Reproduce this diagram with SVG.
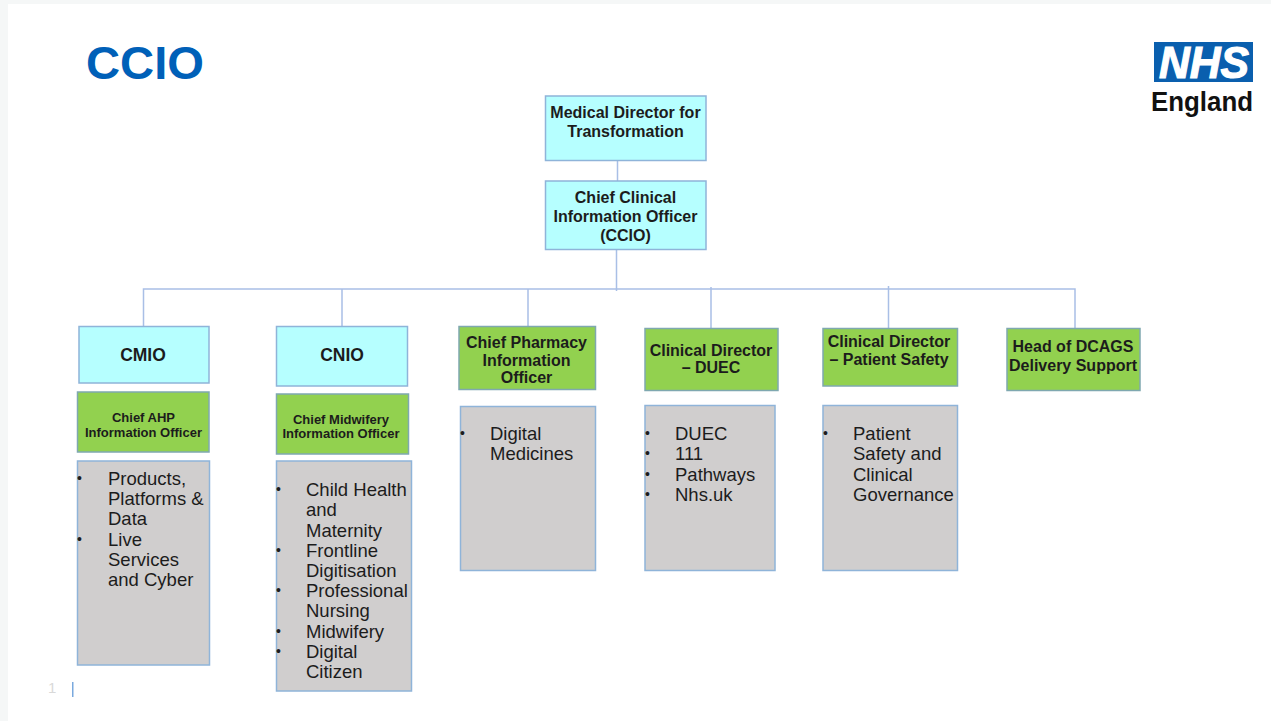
<svg xmlns="http://www.w3.org/2000/svg" width="1271" height="721" viewBox="0 0 1271 721">
<style>
text{font-family:"Liberation Sans",Arial,sans-serif;fill:#1c1c1c}
.box{stroke:#8fb4d9;stroke-width:1.5}
.cy{fill:#b6ffff}.gr{fill:#92d14f;stroke:#7fa8b0}.gy{fill:#d0cece}
.b{font-weight:bold;text-anchor:middle;font-size:16px}
.c{font-weight:bold;text-anchor:middle;font-size:17.500px}
.s{font-weight:bold;text-anchor:middle;font-size:13px}
.l{font-size:18.500px}
.d{font-size:14px}
.conn{stroke:#a9bfe6;stroke-width:1.5;fill:none}
</style>
<rect width="1271" height="721" fill="#f5f7f7"/>
<rect x="8" y="4" width="1263" height="717" fill="#fff"/>
<text id="title" x="86" y="79" font-size="47" font-weight="bold" style="fill:#0060b8" textLength="118" lengthAdjust="spacingAndGlyphs">CCIO</text>
<g id="logo">
<rect x="1154" y="42" width="99" height="40" fill="#0a5fae"/>
<text x="1159" y="78" font-size="45" font-weight="bold" font-style="italic" style="fill:#fff;stroke:#fff;stroke-width:1.200" textLength="90" lengthAdjust="spacingAndGlyphs">NHS</text>
<text x="1253" y="111" font-size="27" font-weight="bold" text-anchor="end" style="fill:#111" textLength="102" lengthAdjust="spacingAndGlyphs">England</text>
</g>
<g id="connectors" class="conn">
<path d="M617.500 160V181M616.500 249V291M143.500 326V289H1075V328M342 289V326M528 289V326M711 287V328M888.500 286V328"/>
</g>
<g id="n-md"><rect class="box cy" x="545.500" y="96" width="160.500" height="64.500"/><text class="b" x="625.500" y="118">Medical Director for</text><text class="b" x="625.500" y="137">Transformation</text></g>
<g id="n-ccio"><rect class="box cy" x="545.500" y="181" width="160.500" height="68.500"/><text class="b" x="625.500" y="203">Chief Clinical</text><text class="b" x="625.500" y="222">Information Officer</text><text class="b" x="625.500" y="241">(CCIO)</text></g>
<g id="n-cmio"><rect class="box cy" x="79" y="326.500" width="130" height="56.500"/><text class="c" x="143" y="361">CMIO</text></g>
<g id="n-cnio"><rect class="box cy" x="276.500" y="326.500" width="131" height="59.500"/><text class="c" x="342" y="361">CNIO</text></g>
<g id="n-ahp"><rect class="box gr" x="77.500" y="392" width="131.500" height="60"/><text class="s" x="143.500" y="422">Chief AHP</text><text class="s" x="143.500" y="437">Information Officer</text></g>
<g id="n-mid"><rect class="box gr" x="276.500" y="394" width="132" height="60"/><text class="s" x="341" y="424">Chief Midwifery</text><text class="s" x="341" y="438">Information Officer</text></g>
<g id="n-pharm"><rect class="box gr" x="459" y="326.500" width="136.500" height="63"/><text class="b" x="526.500" y="348">Chief Pharmacy</text><text class="b" x="526.500" y="366">Information</text><text class="b" x="526.500" y="383">Officer</text></g>
<g id="n-duec"><rect class="box gr" x="645" y="328.500" width="133" height="62"/><text class="b" x="711" y="356">Clinical Director</text><text class="b" x="711" y="373">– DUEC</text></g>
<g id="n-safety"><rect class="box gr" x="823" y="328.500" width="134.500" height="57.500"/><text class="b" x="889" y="347">Clinical Director</text><text class="b" x="889" y="365">– Patient Safety</text></g>
<g id="n-dcags"><rect class="box gr" x="1007" y="328.500" width="133" height="62"/><text class="b" x="1073" y="352">Head of DCAGS</text><text class="b" x="1073" y="371">Delivery Support</text></g>
<g id="n-l1"><rect class="box gy" x="77.500" y="461" width="132" height="204"/>
<text class="d" x="77" y="483">•</text><text class="d" x="77" y="544">•</text>
<g class="l"><text x="108" y="485">Products,</text><text x="108" y="505">Platforms &amp;</text><text x="108" y="525">Data</text><text x="108" y="546">Live</text><text x="108" y="566">Services</text><text x="108" y="586">and Cyber</text></g></g>
<g id="n-l2"><rect class="box gy" x="276.500" y="461" width="135" height="230"/>
<text class="d" x="276" y="494">•</text><text class="d" x="276" y="555">•</text><text class="d" x="276" y="595">•</text><text class="d" x="276" y="636">•</text><text class="d" x="276" y="656">•</text>
<g class="l"><text x="306" y="496">Child Health</text><text x="306" y="516">and</text><text x="306" y="537">Maternity</text><text x="306" y="557">Frontline</text><text x="306" y="577">Digitisation</text><text x="306" y="597">Professional</text><text x="306" y="617">Nursing</text><text x="306" y="638">Midwifery</text><text x="306" y="658">Digital</text><text x="306" y="678">Citizen</text></g></g>
<g id="n-l3"><rect class="box gy" x="460.500" y="406.500" width="135" height="164"/>
<text class="d" x="460" y="438">•</text>
<g class="l"><text x="490" y="440">Digital</text><text x="490" y="460">Medicines</text></g></g>
<g id="n-l4"><rect class="box gy" x="645" y="405.500" width="130" height="165"/>
<text class="d" x="645" y="438">•</text><text class="d" x="645" y="458">•</text><text class="d" x="645" y="479">•</text><text class="d" x="645" y="499">•</text>
<g class="l"><text x="675" y="440">DUEC</text><text x="675" y="460">111</text><text x="675" y="481">Pathways</text><text x="675" y="501">Nhs.uk</text></g></g>
<g id="n-l5"><rect class="box gy" x="823" y="405.500" width="134.500" height="165"/>
<text class="d" x="823" y="438">•</text>
<g class="l"><text x="853" y="440">Patient</text><text x="853" y="460">Safety and</text><text x="853" y="481">Clinical</text><text x="853" y="501">Governance</text></g></g>
<g id="footer"><text x="48" y="693" font-size="15" style="fill:#d9d9d9">1</text><rect x="72" y="682" width="1.500" height="15" fill="#7aa9de"/></g>
</svg>
